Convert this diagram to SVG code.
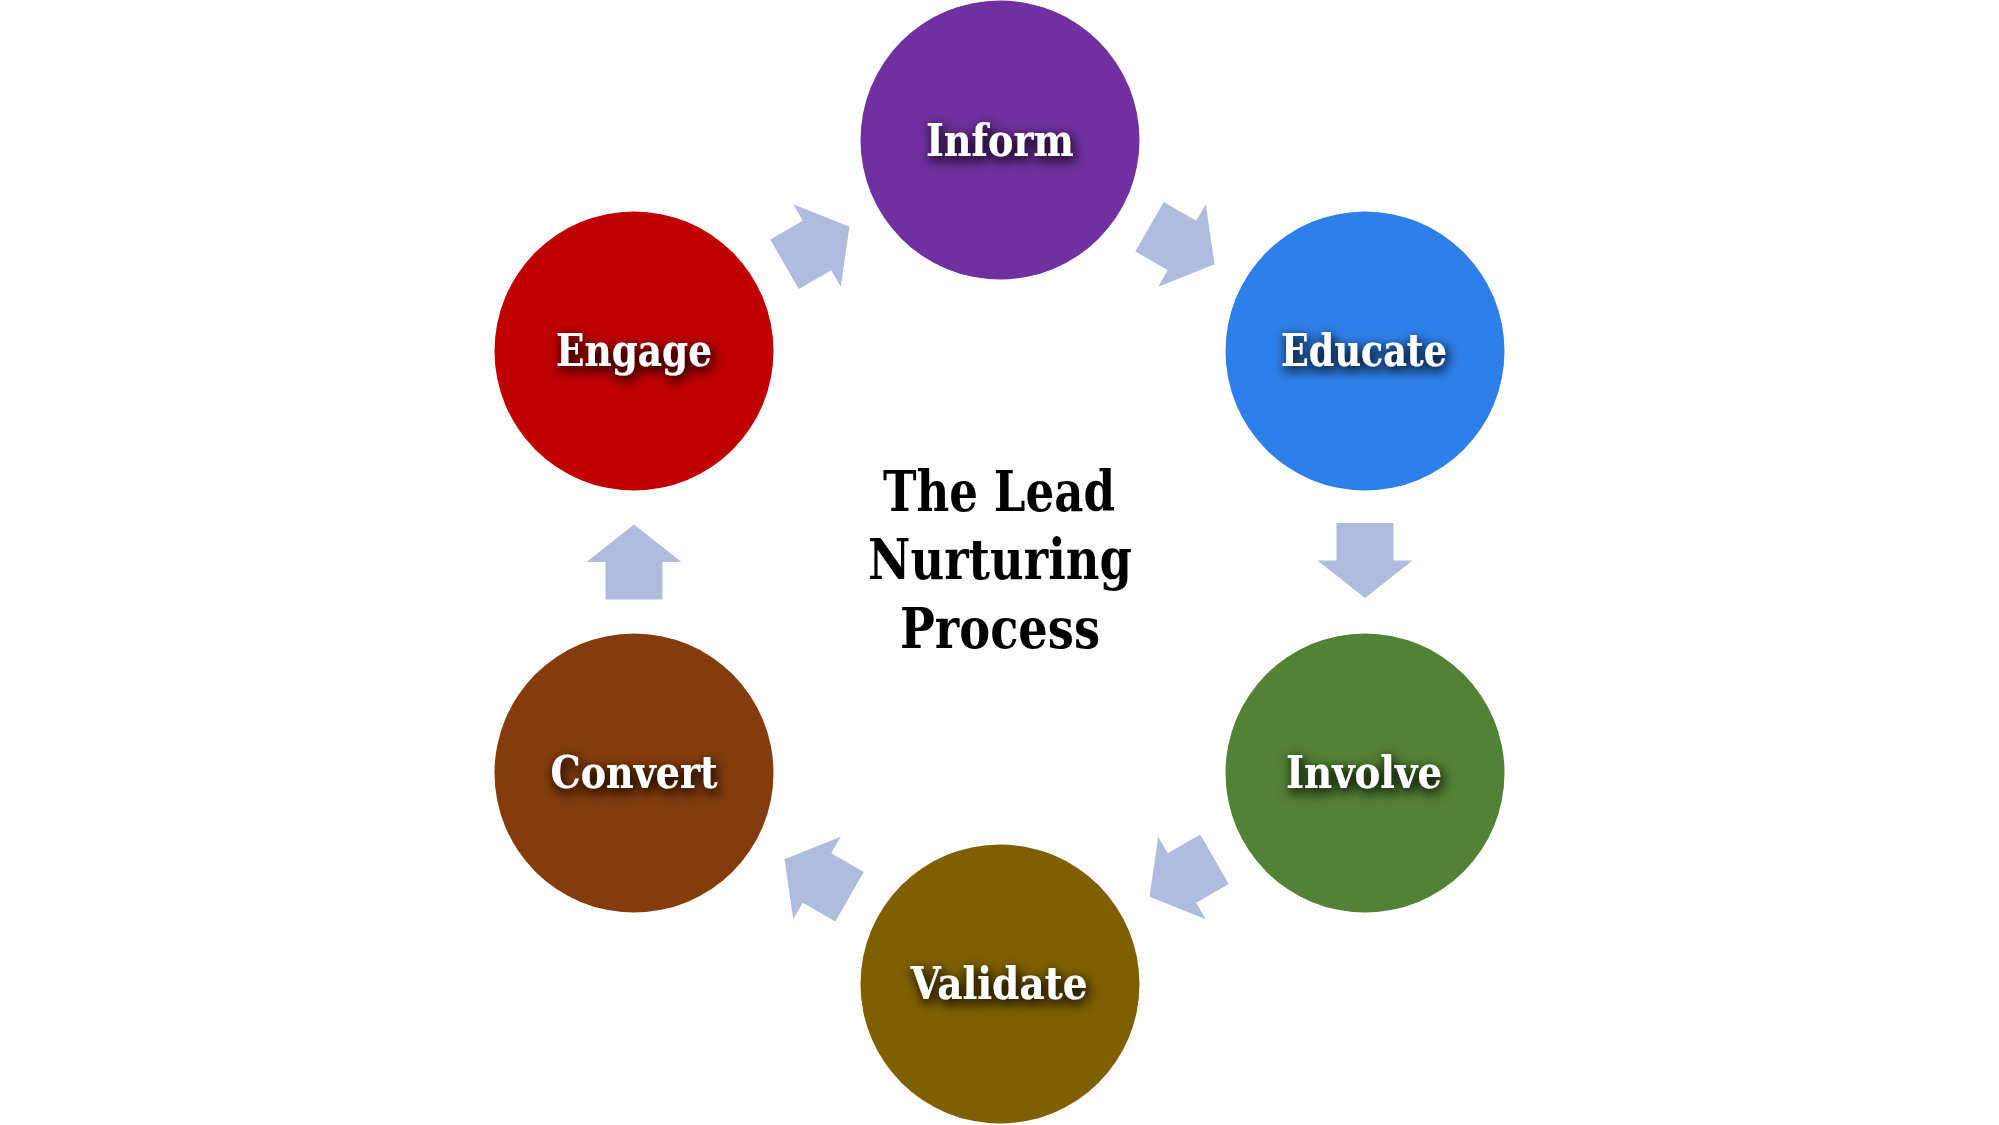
<svg xmlns="http://www.w3.org/2000/svg" width="1999" height="1125" viewBox="0 0 1999 1125">
  <defs>
    <filter id="glow" x="-30%" y="-60%" width="160%" height="220%">
      <feMorphology in="SourceAlpha" operator="dilate" radius="1" result="d"/>
      <feGaussianBlur in="d" stdDeviation="6" result="b"/>
      <feOffset in="b" dx="2" dy="4" result="o"/>
      <feFlood flood-color="#000" flood-opacity="0.85"/>
      <feComposite in2="o" operator="in" result="s"/>
      <feMerge>
        <feMergeNode in="s"/>
        <feMergeNode in="SourceGraphic"/>
      </feMerge>
    </filter>
    <polygon id="arrow" points="-37.5,-28.5 0,-28.5 0,-47.5 37.5,0 0,47.5 0,28.5 -37.5,28.5"/>
  </defs>
  <style>
    .lbl { font-family: "DejaVu Serif", "Liberation Serif", serif; font-weight: bold; font-size: 44px; fill: #FFFFFF; text-anchor: middle; filter: url(#glow); }
    .title { font-family: "DejaVu Serif", "Liberation Serif", serif; font-weight: bold; font-size: 56px; fill: #000000; text-anchor: middle; }
    .arr { fill: #AFBCDD; }
  </style>
  <rect width="1999" height="1125" fill="#FFFFFF"/>

  <g id="connectors">
    <use href="#arrow" class="arr" transform="translate(817,245.5) rotate(-30)"/>
    <use href="#arrow" class="arr" transform="translate(1182,245.5) rotate(30)"/>
    <use href="#arrow" class="arr" transform="translate(1365,560.5) rotate(90)"/>
    <use href="#arrow" class="arr" transform="translate(1182,878) rotate(150)"/>
    <use href="#arrow" class="arr" transform="translate(817,878) rotate(210)"/>
    <use href="#arrow" class="arr" transform="translate(634,562) rotate(270)"/>
  </g>

  <g id="node-inform">
    <circle cx="1000" cy="140" r="139.5" fill="#7030A0"/>
    <text class="lbl" x="1000" y="156" textLength="148" lengthAdjust="spacingAndGlyphs">Inform</text>
  </g>
  <g id="node-educate">
    <circle cx="1365" cy="351" r="139.5" fill="#2E7FEA"/>
    <text class="lbl" x="1364" y="366" textLength="166" lengthAdjust="spacingAndGlyphs">Educate</text>
  </g>
  <g id="node-involve">
    <circle cx="1365" cy="773" r="139.5" fill="#538135"/>
    <text class="lbl" x="1364" y="788" textLength="156" lengthAdjust="spacingAndGlyphs">Involve</text>
  </g>
  <g id="node-validate">
    <circle cx="1000" cy="984" r="139.5" fill="#7F6000"/>
    <text class="lbl" x="999" y="999" textLength="177" lengthAdjust="spacingAndGlyphs">Validate</text>
  </g>
  <g id="node-convert">
    <circle cx="634" cy="773" r="139.5" fill="#843C0C"/>
    <text class="lbl" x="634" y="788" textLength="167" lengthAdjust="spacingAndGlyphs">Convert</text>
  </g>
  <g id="node-engage">
    <circle cx="634" cy="351" r="139.5" fill="#C00000"/>
    <text class="lbl" x="634" y="366" textLength="156" lengthAdjust="spacingAndGlyphs">Engage</text>
  </g>

  <g id="node-title">
    <text class="title" x="999" y="511" textLength="232" lengthAdjust="spacingAndGlyphs">The Lead</text>
    <text class="title" x="1000" y="579" textLength="264" lengthAdjust="spacingAndGlyphs">Nurturing</text>
    <text class="title" x="1000" y="648" textLength="200" lengthAdjust="spacingAndGlyphs">Process</text>
  </g>
</svg>
